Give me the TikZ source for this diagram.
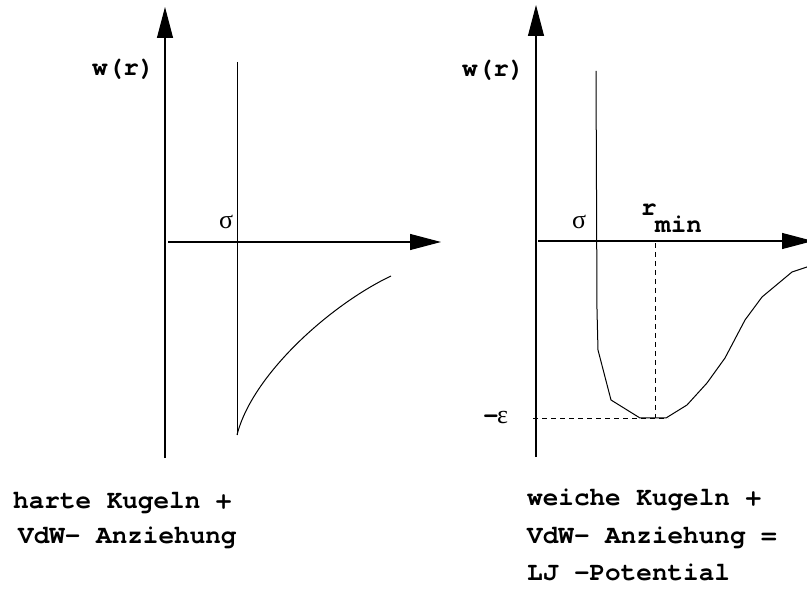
\documentclass[tikz,border=0pt]{standalone}
\usepackage{fontspec}
\setmonofont{TeX Gyre Cursor}
\newfontfamily\symfont{Liberation Serif}
\usetikzlibrary{arrows.meta}
\tikzset{
  axis/.style={line width=1.1pt,-{Triangle[length=31pt,width=16pt]}},
  thin line/.style={line width=1pt},
  dash line/.style={line width=1pt,dash pattern=on 5pt off 4pt},
  lbl/.style={inner sep=0pt,anchor=base west,font=\fontsize{26pt}{30pt}\ttfamily\bfseries},
  greek/.style={inner sep=0pt,anchor=base west,font=\fontsize{26pt}{30pt}\symfont},
}
\begin{document}
\begin{tikzpicture}[x=1pt,y=-1pt]
\useasboundingbox (0,0) rectangle (807,604);
% ---------- left plot ----------
\coordinate (L0) at (165,458);
\coordinate (L1) at (165,7);
\coordinate (LH0) at (168,242);
\coordinate (LH1) at (441,242);
\coordinate (LW0) at (237,62);
\coordinate (LW1) at (237,435);
\coordinate (LC1) at (391,276);
\draw[axis] (L0) -- (L1);
\draw[axis] (LH0) -- (LH1);
\draw[thin line] (LW0) -- (LW1);
\draw[thin line] (LW1) .. controls (252,375) and (330,305) .. (LC1);
\node[lbl] (lw) at (92,76) {w(r)};
\node[greek] (ls) at (219,229) {σ};
% ---------- right plot ----------
\coordinate (R0) at (536,457);
\coordinate (R1) at (536,5);
\coordinate (RH0) at (538,241);
\coordinate (RH1) at (813,241);
\draw[axis] (R0) -- (R1);
\draw[axis] (RH0) -- (RH1);
\draw[thin line,line join=round] (596,71) -- (597,310) -- (598,350) -- (611,400) -- (640,418) -- (666,418) -- (687,405) -- (707,383) -- (725,358) -- (745,320) -- (762,297) -- (792,272) -- (810,266);
\coordinate (RM0) at (655,243);
\coordinate (RM1) at (655,418);
\coordinate (RE0) at (533,419);
\coordinate (RE1) at (668,419);
\draw[dash line] (RM0) -- (RM1);
\draw[dash line] (RE0) -- (RE1);
\node[lbl] (rw) at (462,77) {w(r)};
\node[greek] (rs) at (572,229) {σ};
\node[lbl] (rr) at (641,216) {r};
\node[lbl] (rmin) at (655,233) {min};
\node[lbl] (reps) at (483,424) {-};
\node[greek] (reps2) at (497,424) {ε};
% ---------- captions ----------
\node[lbl] (c1) at (13,508) {harte Kugeln +};
\node[lbl] (c2) at (18,543) {VdW- Anziehung};
\node[lbl] (c3) at (527,505) {weiche Kugeln +};
\node[lbl] (c4) at (527,543) {VdW- Anziehung =};
\node[lbl] (c5) at (527,580) {LJ -Potential};
\end{tikzpicture}
\end{document}
